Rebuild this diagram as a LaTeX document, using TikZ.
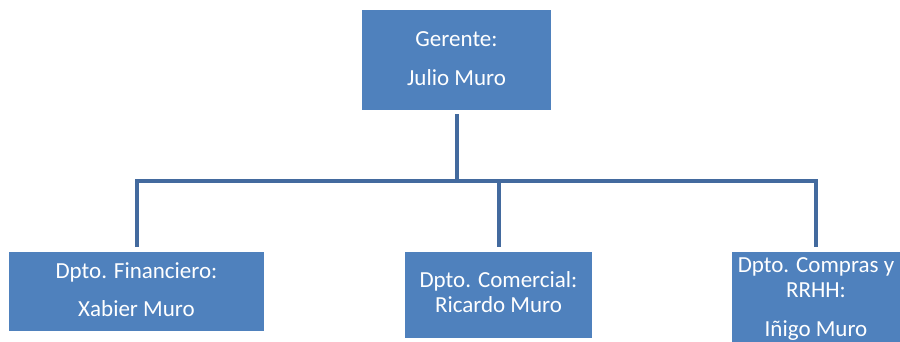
\documentclass[tikz,border=0pt]{standalone}
\usepackage{fontspec}
\setmainfont{Carlito}
\definecolor{boxblue}{RGB}{79,129,189}
\definecolor{linkblue}{RGB}{67,106,158}
\begin{document}
\begin{tikzpicture}[x=1pt,y=-1pt,
  orgbox/.style={fill=boxblue,draw=none,inner sep=0pt,anchor=north west},
  txt/.style={text=white,anchor=base,inner sep=0pt,font=\fontsize{23}{26}\selectfont},
  conn/.style={draw=linkblue,line width=4pt,line join=miter}]
\useasboundingbox (0,0) rectangle (900,342);
\node[orgbox,minimum width=189pt,minimum height=100pt] (top) at (362,10) {};
\node[orgbox,minimum width=255pt,minimum height=79pt] (fin) at (9,252) {};
\node[orgbox,minimum width=187pt,minimum height=86pt] (com) at (405,252) {};
\node[orgbox,minimum width=168pt,minimum height=92pt] (rh) at (732,252) {};
% texts
\node[txt] (t1) at (456.5,47) {Gerente:};
\node[txt] (t2) at (456.5,86) {Julio Muro};
\node[txt] (f1) at (136.5,278) {Dpto. Financiero:};
\node[txt] (f2) at (136.5,316) {Xabier Muro};
\node[txt] (c1) at (498.5,287) {Dpto. Comercial:};
\node[txt] (c2) at (498.5,312) {Ricardo Muro};
\node[txt] (r1) at (816,272) {Dpto. Compras y};
\node[txt] (r2) at (816,297) {RRHH:};
\node[txt] (r3) at (816,336) {Iñigo Muro};
% connectors
\coordinate (bus) at (0,181);
\draw[conn,shorten <=4pt] (top.south) -- (top.south |- bus);
\draw[conn,shorten <=5pt,shorten >=5pt] (fin.north) -- (fin.north |- bus) -- (rh.north |- bus) -- (rh.north);
\draw[conn,shorten >=5pt] (com.north |- bus) -- (com.north);
\end{tikzpicture}
\end{document}
